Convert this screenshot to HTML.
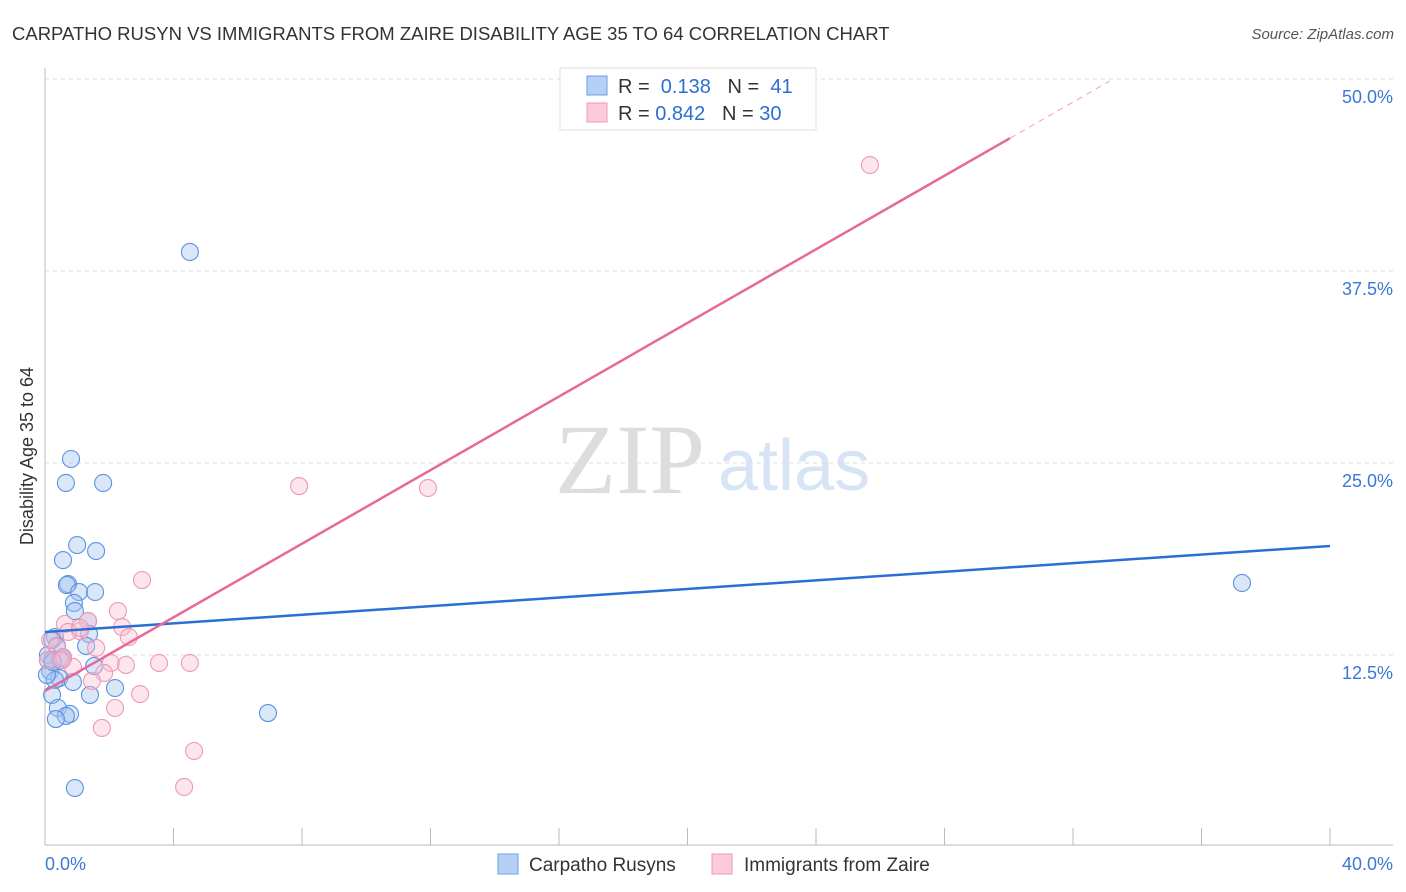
<!DOCTYPE html>
<html><head><meta charset="utf-8"><style>
body{margin:0;background:#fff;font-family:"Liberation Sans",sans-serif;}
svg{display:block}
</style></head><body>
<svg id="chart" width="1406" height="892">
<text x="12" y="40" font-size="18.5" fill="#333">CARPATHO RUSYN VS IMMIGRANTS FROM ZAIRE DISABILITY AGE 35 TO 64 CORRELATION CHART</text>
<text x="1394" y="39" font-size="15" fill="#555" font-style="italic" text-anchor="end">Source: ZipAtlas.com</text>
<text x="555" y="493" font-size="100" fill="#ddd" font-family="Liberation Serif,serif">ZIP</text>
<text x="718" y="490" font-size="72" fill="#d6e4f5">atlas</text>
<g id="grid"></g>
<g id="axes"></g>
<g id="marks"></g>
<text transform="translate(33,456) rotate(-90)" font-size="18" fill="#333" text-anchor="middle">Disability Age 35 to 64</text>
<g>
<rect x="560" y="68" width="256" height="62" fill="#fff" stroke="#ddd"/>
<rect x="587" y="76" width="20" height="19" fill="#b5d0f5" stroke="#6a9fe0"/>
<text x="618" y="93" font-size="20" fill="#333">R = <tspan fill="#2a6fd6">&#160;0.138</tspan>&#160;&#160;&#160;N = <tspan fill="#2a6fd6">&#160;41</tspan></text>
<rect x="587" y="103" width="20" height="19" fill="#fbcbd9" stroke="#ee9ab5"/>
<text x="618" y="120" font-size="20" fill="#333">R = <tspan fill="#2a6fd6">0.842</tspan>&#160;&#160;&#160;N = <tspan fill="#2a6fd6">30</tspan></text>
</g>
<g>
<rect x="498" y="854" width="20" height="20" fill="#b5d0f5" stroke="#6a9fe0"/>
<text x="529" y="871" font-size="19" fill="#333">Carpatho Rusyns</text>
<rect x="712" y="854" width="20" height="20" fill="#fbcbd9" stroke="#ee9ab5"/>
<text x="744" y="871" font-size="19" fill="#333">Immigrants from Zaire</text>
</g>
</svg>
<script>
const xTicks=[0,4,8,12,16,20,24,28,32,36,40];
const yTicks=[12.5,25,37.5,50];
const yTickLabels=["12.5%","25.0%","37.5%","50.0%"];
const xEndLabels=["0.0%","40.0%"];
const blueX=[0.81,0.65,1.81,1.00,1.59,0.56,0.72,0.68,1.06,1.56,0.90,0.93,1.34,1.37,0.31,0.22,0.37,1.28,0.09,0.56,0.22,1.53,0.16,0.44,0.87,0.31,2.18,1.40,0.22,0.40,0.78,0.65,0.34,6.94,4.51,37.26,0.93,0.09,0.06,0.47,0.25];
const blueY=[25.26,23.70,23.70,19.66,19.27,18.68,17.12,17.05,16.60,16.60,15.89,15.36,14.71,13.87,13.67,13.48,13.09,13.09,12.50,12.30,12.17,11.78,11.46,11.00,10.74,10.87,10.35,9.90,9.90,9.05,8.66,8.53,8.33,8.72,38.74,17.19,3.84,12.17,11.20,12.17,12.04];
const pinkX=[25.68,7.91,11.92,3.02,2.27,0.62,1.34,2.40,1.09,2.61,0.72,1.59,0.37,0.56,2.05,2.52,3.55,4.51,0.87,1.84,1.46,2.96,2.18,1.77,4.64,4.33,0.09,1.09,0.16,0.53];
const pinkY=[44.40,23.50,23.37,17.38,15.36,14.52,14.71,14.32,14.06,13.67,14.00,12.96,13.02,12.37,11.98,11.85,11.98,11.98,11.72,11.33,10.81,9.96,9.05,7.75,6.25,3.91,12.17,14.26,13.48,12.17];
const blueTrend=[14.0,0.14];
const pinkTrend=[10.16,1.198];
const pinkSolidEnd=30.04, pinkDashEnd=33.15;
const NS="http://www.w3.org/2000/svg";
const sx=v=>45+v*1285/40;
const sy=v=>847-v*15.36;
function mk(tag,attrs,parent){const e=document.createElementNS(NS,tag);for(const k in attrs)e.setAttribute(k,attrs[k]);parent.appendChild(e);return e;}
const grid=document.getElementById('grid'),axes=document.getElementById('axes'),marks=document.getElementById('marks');
yTicks.forEach((t,i)=>{
 const l=mk('line',{x1:45,x2:1393,y1:sy(t),y2:sy(t),stroke:'#ddd','stroke-dasharray':'4,4'},grid);
 
 
 const tx=mk('text',{x:1393,y:sy(t)+24,'font-size':18,fill:'#3a78d8','text-anchor':'end'},axes);
 tx.textContent=yTickLabels[i];
 
 
});
const ya=mk('line',{x1:45,x2:45,y1:68,y2:845,stroke:'#bbb'},axes);


const xa=mk('line',{x1:45,x2:1393,y1:845,y2:845,stroke:'#bbb'},axes);


xTicks.forEach(t=>{
 const l=mk('line',{x1:sx(t),x2:sx(t),y1:828,y2:845,stroke:'#bbb'},axes);
 
 
});
const xl0=mk('text',{x:45,y:870,'font-size':18,fill:'#3a78d8'},axes);
xl0.textContent=xEndLabels[0];


const xl1=mk('text',{x:1393,y:870,'font-size':18,fill:'#3a78d8','text-anchor':'end'},axes);
xl1.textContent=xEndLabels[1];


blueX.forEach((x,i)=>{
 const c=mk('circle',{cx:sx(x),cy:sy(blueY[i]),r:8.5,fill:'rgba(160,195,240,0.4)',stroke:'#5b93e0','stroke-width':1.1},marks);
 
 
});
pinkX.forEach((x,i)=>{
 const c=mk('circle',{cx:sx(x),cy:sy(pinkY[i]),r:8.5,fill:'rgba(248,190,210,0.4)',stroke:'#ee9ab5','stroke-width':1.1},marks);
 
 
});
const bl=mk('line',{x1:sx(0),y1:sy(blueTrend[0]),x2:sx(40),y2:sy(blueTrend[0]+blueTrend[1]*40),stroke:'#2a6fd6','stroke-width':2.5},marks);


const pl=mk('line',{x1:sx(0),y1:sy(pinkTrend[0]),x2:sx(pinkSolidEnd),y2:sy(pinkTrend[0]+pinkTrend[1]*pinkSolidEnd),stroke:'#e8689a','stroke-width':2.5},marks);


const pd=mk('line',{x1:sx(pinkSolidEnd),y1:sy(pinkTrend[0]+pinkTrend[1]*pinkSolidEnd),x2:sx(pinkDashEnd),y2:sy(pinkTrend[0]+pinkTrend[1]*pinkDashEnd),stroke:'#f0a0bd','stroke-width':1,'stroke-dasharray':'6,5'},marks);


</script>
</body></html>
